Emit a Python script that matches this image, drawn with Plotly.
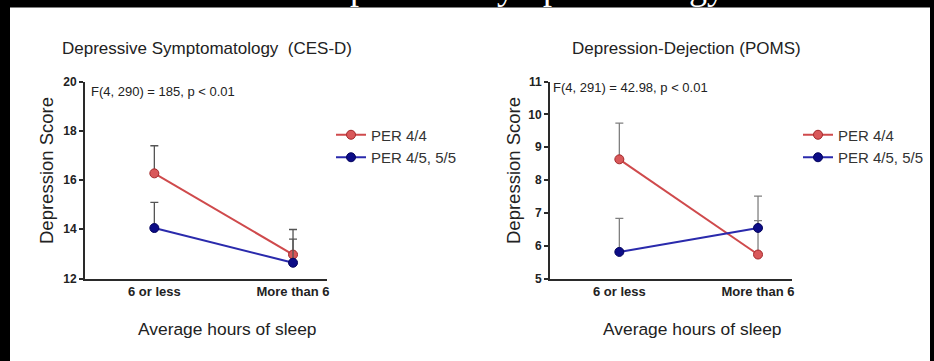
import plotly.graph_objects as go

# ---------------- data ----------------
categories = ["6 or less", "More than 6"]
series_names = ["PER 4/4", "PER 4/5, 5/5"]

cesd_per44 = [16.27, 12.97]
cesd_per44_err = [1.12, 1.02]
cesd_per45 = [14.05, 12.64]
cesd_per45_err = [1.04, 0.96]

poms_per44 = [8.63, 5.73]
poms_per44_err = [1.10, 1.03]
poms_per45 = [5.81, 6.54]
poms_per45_err = [1.02, 0.97]

cesd_yticks = [12, 14, 16, 18, 20]
poms_yticks = [5, 6, 7, 8, 9, 10, 11]

W, H = 934, 361
RED_LINE = "#cf4a4c"
RED_FILL = "#d9585a"
RED_EDGE = "#a3292b"
BLUE_LINE = "#2a2aac"
BLUE_FILL = "#0c0c86"
BLUE_EDGE = "#05055e"
FONT = "Arial, Liberation Sans, sans-serif"

def px_x(x):
    return x / W

def px_y(y):
    return 1 - y / H

fig = go.Figure()

def add_series(xaxis, yaxis, vals, errs, name, line_c, fill_c, edge_c, err_c, legend):
    fig.add_trace(go.Scatter(
        x=categories, y=vals, name=name, mode="lines+markers",
        xaxis=xaxis, yaxis=yaxis, legend=legend,
        line=dict(color=line_c, width=2),
        marker=dict(size=9, color=fill_c, line=dict(color=edge_c, width=1)),
        error_y=dict(type="data", array=errs, arrayminus=[0] * len(errs),
                     symmetric=False, color=err_c, thickness=1.3, width=4),
    ))

add_series("x", "y", cesd_per44, cesd_per44_err, series_names[0], RED_LINE, RED_FILL, RED_EDGE, "#555555", "legend")
add_series("x", "y", cesd_per45, cesd_per45_err, series_names[1], BLUE_LINE, BLUE_FILL, BLUE_EDGE, "#555555", "legend")
add_series("x2", "y2", poms_per44, poms_per44_err, series_names[0], RED_LINE, RED_FILL, RED_EDGE, "#808080", "legend2")
add_series("x2", "y2", poms_per45, poms_per45_err, series_names[1], BLUE_LINE, BLUE_FILL, BLUE_EDGE, "#808080", "legend2")

xcommon = dict(type="category", range=[-0.5, 1.245], showline=True, linecolor="#2a2a2a",
               linewidth=2, ticks="", showgrid=False, zeroline=False, automargin=False,
               tickfont=dict(family=FONT, size=13, color="#222", weight="bold"), fixedrange=True)
ycommon = dict(showline=True, linecolor="#2a2a2a", linewidth=2, ticks="outside", ticklen=4,
               tickwidth=2, tickcolor="#2a2a2a", showgrid=False, zeroline=False, automargin=False,
               tickfont=dict(family=FONT, size=12, color="#222", weight="bold"), fixedrange=True)

ydom = [px_y(278.5), px_y(81.5)]

fig.update_layout(
    width=W, height=H, autosize=False,
    margin=dict(l=0, r=0, t=0, b=0, pad=0, autoexpand=False),
    paper_bgcolor="white", plot_bgcolor="white",
    xaxis=dict(xcommon, domain=[px_x(85), px_x(327)], anchor="y"),
    yaxis=dict(ycommon, domain=ydom, range=[12, 20], tickvals=cesd_yticks, anchor="x"),
    xaxis2=dict(xcommon, domain=[px_x(550), px_x(792)], anchor="y2"),
    yaxis2=dict(ycommon, domain=ydom, range=[5, 11], tickvals=poms_yticks, anchor="x2"),
    legend=dict(x=px_x(331), y=px_y(146), xanchor="left", yanchor="middle",
                font=dict(family=FONT, size=15, color="#333"), bgcolor="rgba(0,0,0,0)",
                tracegroupgap=0, itemwidth=30),
    legend2=dict(x=px_x(798), y=px_y(146), xanchor="left", yanchor="middle",
                 font=dict(family=FONT, size=15, color="#333"), bgcolor="rgba(0,0,0,0)",
                 tracegroupgap=0, itemwidth=30),
    showlegend=True,
)

ann = []
def text(x, y, s, size, color="#222", angle=0, xanchor="center", family=FONT, yanchor="middle"):
    ann.append(dict(x=px_x(x), y=px_y(y), xref="paper", yref="paper", text=s, showarrow=False,
                    font=dict(family=family, size=size, color=color), textangle=angle,
                    xanchor=xanchor, yanchor=yanchor))

text(60, 48, "Depressive Symptomatology  (CES-D)", 17, xanchor="left")
text(570, 48, "Depression-Dejection (POMS)", 17, xanchor="left")
text(89, 91, "F(4, 290) = 185, p < 0.01", 13, xanchor="left")
text(551, 87, "F(4, 291) = 42.98, p < 0.01", 13, xanchor="left")
text(47, 171, "Depression Score", 18.5, angle=-90)
text(514, 171, "Depression Score", 18.5, angle=-90)
text(227, 329, "Average hours of sleep", 17.4)
text(692, 329, "Average hours of sleep", 17.4)
# cropped heading in the black band at the very top
text(516, 9, "Depressive Symptomatology", 36, color="white",
     family="Liberation Serif, Times New Roman, serif", yanchor="bottom")

fig.update_layout(annotations=ann)

shapes = [
    dict(type="rect", xref="paper", yref="paper", x0=0, x1=1, y0=px_y(7.5), y1=1,
         fillcolor="black", line=dict(width=0), layer="below"),
    dict(type="rect", xref="paper", yref="paper", x0=0, x1=px_x(10), y0=0, y1=1,
         fillcolor="black", line=dict(width=0), layer="below"),
    dict(type="rect", xref="paper", yref="paper", x0=px_x(930), x1=1, y0=0, y1=1,
         fillcolor="black", line=dict(width=0), layer="below"),
]
fig.update_layout(shapes=shapes)

fig.write_html("out.html")
